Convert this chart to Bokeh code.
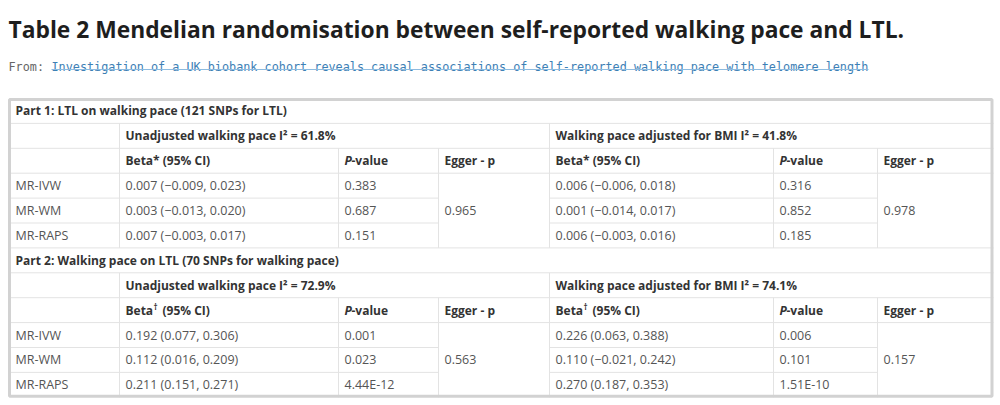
from bokeh.plotting import figure
from bokeh.models import Range1d, ColumnDataSource
from bokeh.embed import file_html
from bokeh.resources import INLINE
from bokeh.core.properties import value

# ---------------- data ----------------
title_text = "Table 2 Mendelian randomisation between self-reported walking pace and LTL."
from_label = "From: "
link_text = ("Investigation of a UK biobank cohort reveals causal associations of "
             "self-reported walking pace with telomere length")

methods = ["MR-IVW", "MR-WM", "MR-RAPS"]
part_titles = ["Part 1: LTL on walking pace (121 SNPs for LTL)",
               "Part 2: Walking pace on LTL (70 SNPs for walking pace)"]
i2_unadjusted = ["61.8%", "72.9%"]
i2_adjusted = ["41.8%", "74.1%"]
beta_marks = ["*", "†"]

p1_unadj_beta = ["0.007 (\u22120.009, 0.023)", "0.003 (\u22120.013, 0.020)", "0.007 (\u22120.003, 0.017)"]
p1_unadj_p = ["0.383", "0.687", "0.151"]
p1_unadj_egger = "0.965"
p1_adj_beta = ["0.006 (\u22120.006, 0.018)", "0.001 (\u22120.014, 0.017)", "0.006 (\u22120.003, 0.016)"]
p1_adj_p = ["0.316", "0.852", "0.185"]
p1_adj_egger = "0.978"

p2_unadj_beta = ["0.192 (0.077, 0.306)", "0.112 (0.016, 0.209)", "0.211 (0.151, 0.271)"]
p2_unadj_p = ["0.001", "0.023", "4.44E-12"]
p2_unadj_egger = "0.563"
p2_adj_beta = ["0.226 (0.063, 0.388)", "0.110 (\u22120.021, 0.242)", "0.270 (0.187, 0.353)"]
p2_adj_p = ["0.006", "0.101", "1.51E-10"]
p2_adj_egger = "0.157"

# ---------------- layout ----------------
W, H = 996, 401
XE = [8, 119, 338, 438, 549, 773, 877, 993]   # column edges
TOP = 98
RH = 24.9
PAD = 6
FONT = "Open Sans"
FS = "12px"
FS_DATA = "12.5px"
DATA_COL = "#555555"
HEAD_COL = "#333333"
LINE_COL = "#e3e3e3"

p = figure(width=W, height=H, x_range=Range1d(0, W), y_range=Range1d(H, 0),
           output_backend="svg", toolbar_location=None, min_border=0)
p.axis.visible = False
p.grid.visible = False
p.outline_line_color = None
p.background_fill_color = "white"
p.border_fill_color = "white"

def ry(i):
    return TOP + RH * i

def txt(x, y, s, color=DATA_COL, bold=False, italic=False, size=FS, font=FONT,
        baseline="middle", align="left"):
    style = "bold italic" if (bold and italic) else ("bold" if bold else ("italic" if italic else "normal"))
    src = ColumnDataSource(dict(x=[x] if not isinstance(x, list) else x,
                                y=[y] if not isinstance(y, list) else y,
                                t=[s] if not isinstance(s, list) else s))
    p.text(x="x", y="y", text="t", source=src, text_color=color, text_font=value(font),
           text_font_size=size, text_font_style=style, text_baseline=baseline, text_align=align)

# title & source line
txt(8, 29, title_text, color="#1e1e1e", bold=True, size="22.8px", baseline="alphabetic")
txt(8, 66, from_label, color="#666666", size="11.8px", font="DejaVu Sans Mono", baseline="alphabetic")
txt(51, 66, link_text, color="#3d80b5", size="11.8px", font="DejaVu Sans Mono", baseline="alphabetic")
p.segment(x0=[51], y0=[69], x1=[868], y1=[69], line_color="#8dbbe0", line_width=1)

# ---------------- grid lines ----------------
hx0, hy0, hx1, hy1 = [], [], [], []
vx0, vy0, vx1, vy1 = [], [], [], []
for part in range(2):
    b = part * 6
    for k in (1, 2, 3):
        hx0.append(XE[0]); hx1.append(XE[-1]); hy0.append(ry(b + k)); hy1.append(ry(b + k))
    for k in (4, 5):
        for c0, c1 in ((XE[0], XE[3]), (XE[4], XE[6])):
            hx0.append(c0); hx1.append(c1); hy0.append(ry(b + k)); hy1.append(ry(b + k))
    if part == 0:
        hx0.append(XE[0]); hx1.append(XE[-1]); hy0.append(ry(6)); hy1.append(ry(6))
    for xe in (XE[1], XE[4]):
        vx0.append(xe); vx1.append(xe); vy0.append(ry(b + 1)); vy1.append(ry(b + 6))
    for xe in (XE[2], XE[3], XE[5], XE[6]):
        vx0.append(xe); vx1.append(xe); vy0.append(ry(b + 2)); vy1.append(ry(b + 6))

p.segment(x0=hx0, y0=hy0, x1=hx1, y1=hy1, line_color=LINE_COL, line_width=1)
p.segment(x0=vx0, y0=vy0, x1=vx1, y1=vy1, line_color=LINE_COL, line_width=1)
p.quad(left=[XE[0] + 1], right=[XE[-1] - 1.5], top=[TOP + 1], bottom=[ry(12) - 1],
       fill_color=None, line_color="#d2d2d2", line_width=3)

# ---------------- cell texts ----------------
parts = [
    (p1_unadj_beta, p1_unadj_p, p1_unadj_egger, p1_adj_beta, p1_adj_p, p1_adj_egger),
    (p2_unadj_beta, p2_unadj_p, p2_unadj_egger, p2_adj_beta, p2_adj_p, p2_adj_egger),
]
for part, (ub, up, ue, ab, ap, ae) in enumerate(parts):
    b = part * 6
    mid = lambda k: ry(b + k) + RH / 2
    txt(XE[0] + 7, mid(0), part_titles[part], color=HEAD_COL, bold=True)
    txt(XE[1] + PAD, mid(1), "Unadjusted walking pace I\u00b2 = " + i2_unadjusted[part], color=HEAD_COL, bold=True)
    txt(XE[4] + PAD, mid(1), "Walking pace adjusted for BMI I\u00b2 = " + i2_adjusted[part], color=HEAD_COL, bold=True)
    for c in (XE[1], XE[4]):
        if beta_marks[part] == "*":
            txt(c + PAD, mid(2), "Beta* (95% CI)", color=HEAD_COL, bold=True)
        else:
            txt(c + PAD, mid(2), "Beta", color=HEAD_COL, bold=True)
            txt(c + PAD + 28, mid(2) - 4, beta_marks[part], color=HEAD_COL, bold=True, size="8px")
            txt(c + PAD + 37, mid(2), "(95% CI)", color=HEAD_COL, bold=True)
    for c in (XE[2], XE[5]):
        txt(c + PAD, mid(2), "P", color=HEAD_COL, bold=True, italic=True)
        txt(c + PAD + 7, mid(2), "-value", color=HEAD_COL, bold=True)
    for c in (XE[3], XE[6]):
        txt(c + PAD, mid(2), "Egger - p", color=HEAD_COL, bold=True)
    ys = [mid(3), mid(4), mid(5)]
    txt([XE[0] + 7] * 3, ys, methods, size=FS_DATA)
    txt([XE[1] + PAD] * 3, ys, ub, size=FS_DATA)
    txt([XE[2] + PAD] * 3, ys, up, size=FS_DATA)
    txt(XE[3] + PAD, mid(4), ue, size=FS_DATA)
    txt([XE[4] + PAD] * 3, ys, ab, size=FS_DATA)
    txt([XE[5] + PAD] * 3, ys, ap, size=FS_DATA)
    txt(XE[6] + PAD, mid(4), ae, size=FS_DATA)

open("out.html", "w").write(file_html(p, INLINE))
